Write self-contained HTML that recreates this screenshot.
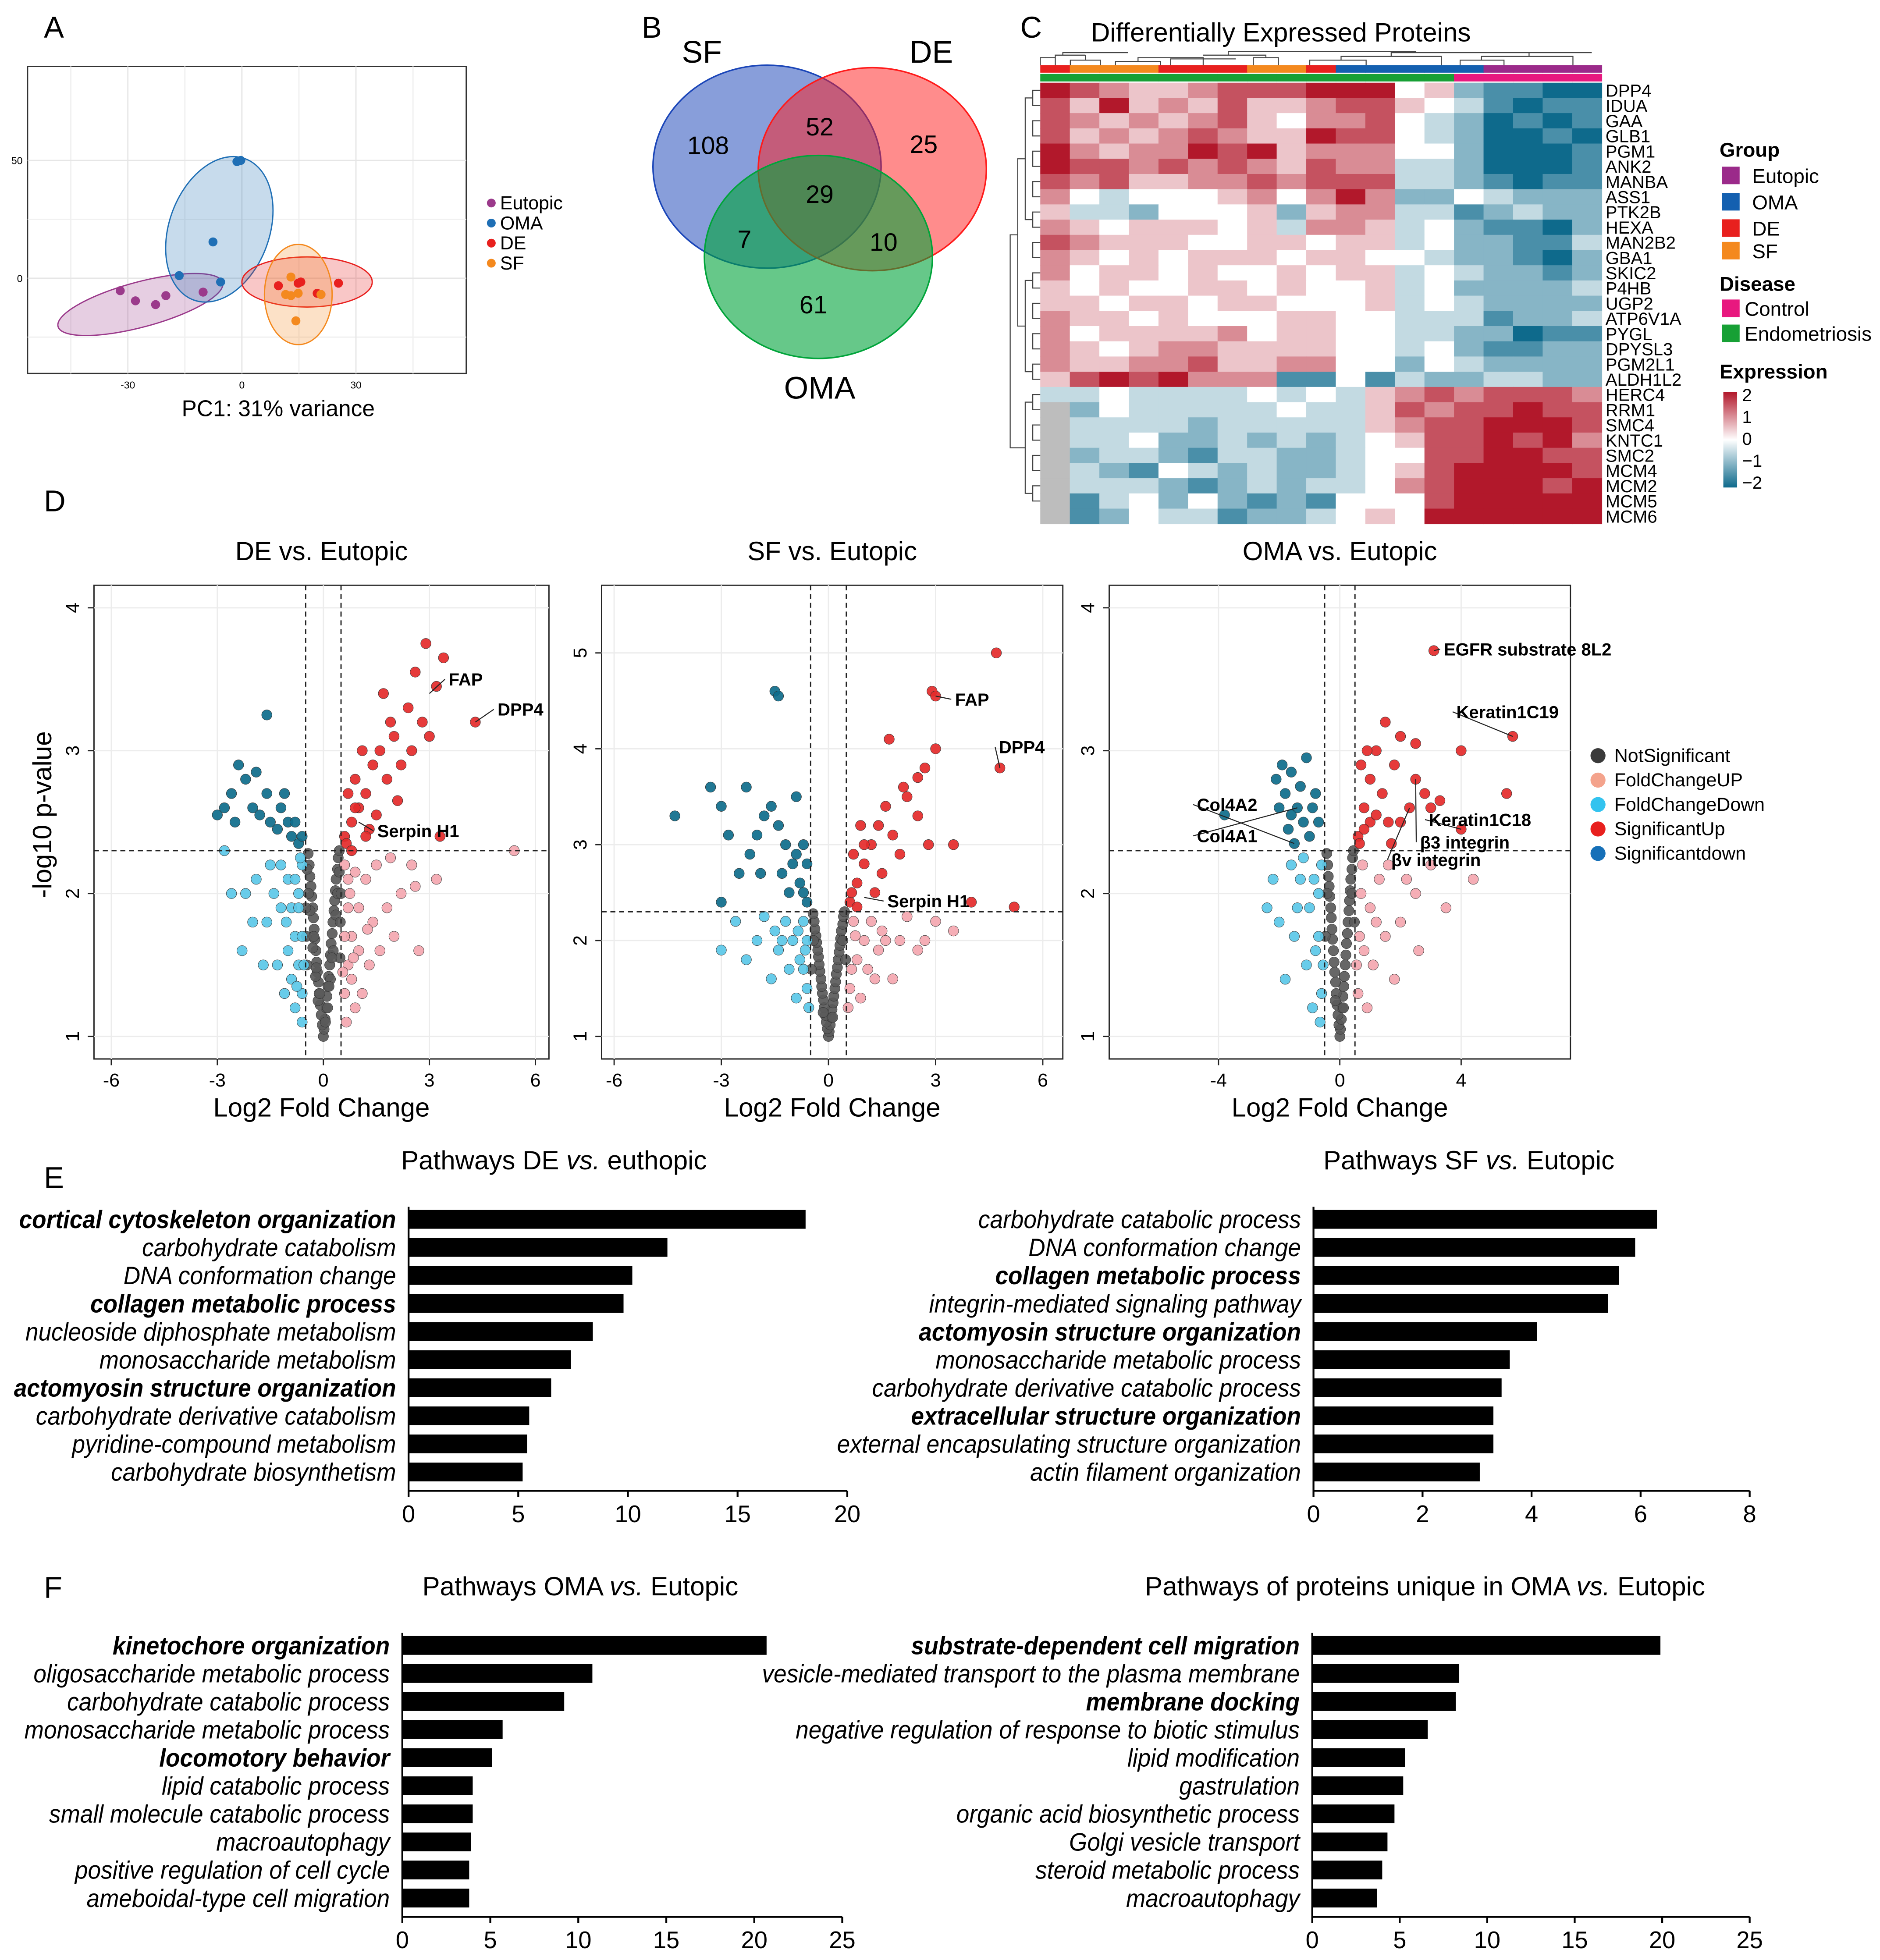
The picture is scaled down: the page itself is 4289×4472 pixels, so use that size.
<!DOCTYPE html>
<html><head><meta charset="utf-8">
<style>
html,body{margin:0;padding:0;background:#fff;}
svg{display:block;font-family:"Liberation Sans",sans-serif;}
</style></head>
<body>
<svg id="fig" xmlns="http://www.w3.org/2000/svg" width="4289" height="4472" viewBox="0 0 1500 1564">
<rect x="0" y="0" width="1500" height="1564" fill="#fff"/>
<g id="static" font-size="22">
<text x="35" y="30" font-size="24">A</text>
<text x="512" y="30" font-size="24">B</text>
<text x="814" y="30" font-size="24">C</text>
<text x="35" y="408" font-size="24">D</text>
<text x="35" y="948" font-size="24">E</text>
<text x="35" y="1275" font-size="24">F</text>
</g>
<g id="pA"></g>
<g id="pB"></g>
<g id="pC"></g>
<g id="pD"></g>
<g id="pE"></g>
</svg>
<script>
const NS='http://www.w3.org/2000/svg';
function mk(tag,attrs,parent,txt){const e=document.createElementNS(NS,tag);for(const k in attrs)e.setAttribute(k,attrs[k]);if(txt!==undefined)e.textContent=txt;parent.appendChild(e);return e;}

/* ---------------- A: PCA ---------------- */
const pcaEutopicX=[-32,-28,-22.7,-20,-10.2];
const pcaEutopicY=[-5.3,-9.6,-11.2,-7.4,-5.9];
const pcaOmaX=[-1.3,-0.3,-7.6,-16.5,-5.6];
const pcaOmaY=[49.5,50,15.4,1.1,-1.6];
const pcaDeX=[9.6,14.8,19.8,20.8,25.4,15.5];
const pcaDeY=[-3.2,-2.1,-6.4,-6.9,-2.1,-1.6];
const pcaSfX=[12.9,11.5,14.8,14.2,12.9,20.8];
const pcaSfY=[0.5,-6.9,-6.4,-18.1,-7.4,-6.9];
const pcaXTicks=[-30,0,30];
const pcaYTicks=[0,50];
(function(){
const g=document.getElementById('pA');
const sx=v=>193+v*91/30, sy=v=>222-v*94/50;
let r=mk('rect',{x:22,y:53,width:350,height:245,fill:'#fff',stroke:'#333','stroke-width':1},g);


for(const t of [-45,-15,15,45]){mk('line',{x1:sx(t),x2:sx(t),y1:53,y2:298,stroke:'#f0f0f0'},g);}
for(const t of [-25,25]){mk('line',{x1:22,x2:372,y1:sy(t),y2:sy(t),stroke:'#f0f0f0'},g);}
for(const t of pcaXTicks){mk('line',{x1:sx(t),x2:sx(t),y1:53,y2:298,stroke:'#e6e6e6'},g);const tx=mk('text',{x:sx(t),y:310,'font-size':8,'text-anchor':'middle'},g,t);}
for(const t of pcaYTicks){mk('line',{x1:22,x2:372,y1:sy(t),y2:sy(t),stroke:'#e6e6e6'},g);const ty=mk('text',{x:18,y:sy(t)+3,'font-size':8,'text-anchor':'end'},g,t);}
const ells=[[112,243,68,18,-15,'#9B3A8B'],[175,183,40,60,20,'#1F6FB5'],[245,225,52,20,0,'#E8201E'],[238,235,27,40,0,'#F4891E']];
const en=['ellipse-eutopic','ellipse-oma','ellipse-de','ellipse-sf'];
ells.forEach((e,i)=>{const el=mk('ellipse',{cx:e[0],cy:e[1],rx:e[2],ry:e[3],transform:`rotate(${e[4]} ${e[0]} ${e[1]})`,fill:e[5],'fill-opacity':0.25,stroke:e[5],'stroke-width':1},g);});
const sets=[[pcaEutopicX,pcaEutopicY,'#9B3A8B','eutopic'],[pcaOmaX,pcaOmaY,'#1F6FB5','oma'],[pcaDeX,pcaDeY,'#E8201E','de'],[pcaSfX,pcaSfY,'#F4891E','sf']];
sets.forEach(s=>{s[0].forEach((x,i)=>{const c=mk('circle',{cx:sx(x),cy:sy(s[1][i]),r:3.6,fill:s[2]},g);});});
const xt=mk('text',{x:222,y:332,'font-size':18,'text-anchor':'middle'},g,'PC1: 31% variance');

['Eutopic','OMA','DE','SF'].forEach((n,i)=>{const c=mk('circle',{cx:392,cy:162+i*16,r:3.5,fill:sets[i][2]},g);const t=mk('text',{x:399,y:167+i*16,'font-size':15},g,n);});
})();

/* ---------------- B: Venn ---------------- */
const vennCounts=[108,52,25,29,7,10,61];
(function(){
const g=document.getElementById('pB');
const cs=[[612,133,'#1A45B8',0.52,'venn-circle-sf'],[696,135,'#FF1A1A',0.5,'venn-circle-de'],[653,205,'#00A43A',0.6,'venn-circle-oma']];
cs.forEach(c=>{const e=mk('ellipse',{cx:c[0],cy:c[1],rx:91,ry:81,fill:c[2],'fill-opacity':c[3],stroke:c[2],'stroke-width':1.2},g);});
const pos=[[565,123],[654,108],[737,122],[654,162],[594,198],[705,200],[649,250]];
vennCounts.forEach((v,i)=>{const t=mk('text',{x:pos[i][0],y:pos[i][1],'font-size':20,'text-anchor':'middle'},g,v);});
[['SF',560,50],['DE',743,50],['OMA',654,318]].forEach(l=>{const t=mk('text',{x:l[1],y:l[2],'font-size':25,'text-anchor':'middle'},g,l[0]);});
})();

/* ---------------- C: Heatmap ---------------- */
const heatGenes=['DPP4','IDUA','GAA','GLB1','PGM1','ANK2','MANBA','ASS1','PTK2B','HEXA','MAN2B2','GBA1','SKIC2','P4HB','UGP2','ATP6V1A','PYGL','DPYSL3','PGM2L1','ALDH1L2','HERC4','RRM1','SMC4','KNTC1','SMC2','MCM4','MCM2','MCM5','MCM6'];
const heatRows=["8765567778884521100","7585657556775431011","7656567546674320101","7565676558774320010","8656687856664420001","8776767657663320001","7675566767773321011","6434445646862243222","5332444525663312322","6545554536653421102","7655544554553422113","6545455545544322102","6455454454553432212","5454455454453422223","5545545544453432222","6554544455443331223","6455556455443322011","6545665555443421122","6556675566442432222","5787866611413223322","3343333434356767776","x243333343357677877","x333323333356778887","x334223232345778786","x233213322344778877","x321432322345788887","x333212323346788878","x134242121444788888","x124331223454888888"];
const heatGroup=['DE','SF','SF','SF','DE','DE','DE','SF','SF','DE','OMA','OMA','OMA','OMA','OMA','Eutopic','Eutopic','Eutopic','Eutopic'];
const heatDisease=['E','E','E','E','E','E','E','E','E','E','E','E','E','E','C','C','C','C','C'];
(function(){
const g=document.getElementById('pC');
const x0=830,y0=66,w=448,h=352,nc=19,nr=29,cw=w/nc,rh=h/nr;
const t=mk('text',{x:1022,y:33,'font-size':21,'text-anchor':'middle'},g,'Differentially Expressed Proteins');

function col(v){const lo=[14,106,140],mid=[255,255,255],hi=[178,24,43];let a,b,f;if(v<0){a=mid;b=lo;f=Math.min(1,-v/2);}else{a=mid;b=hi;f=Math.min(1,v/2);}return 'rgb('+a.map((c,i)=>Math.round(c+(b[i]-c)*f)).join(',')+')';}
heatRows.forEach((row,ri)=>{for(let ci=0;ci<nc;ci++){const ch=row[ci];const fill=ch==='x'?'#bdbdbd':col((+ch-4)/2);const c=mk('rect',{x:x0+ci*cw,y:y0+ri*rh,width:cw+0.3,height:rh+0.3,fill:fill},g);}});
const gc={DE:'#E8201E',SF:'#F4891E',OMA:'#1460B0',Eutopic:'#E8187F'};
heatGroup.forEach((k,i)=>{const c=mk('rect',{x:x0+i*cw,y:52,width:cw+0.3,height:6,fill:k==='Eutopic'?'#9B2A8A':gc[k]},g);});
heatDisease.forEach((k,i)=>{const c=mk('rect',{x:x0+i*cw,y:59,width:cw+0.3,height:6,fill:k==='C'?'#E8187F':'#17A035'},g);});
heatGenes.forEach((n,i)=>{const tx=mk('text',{x:1281,y:y0+i*rh+rh-1,'font-size':14},g,n);});
const dd='M830,52V46H842V52M842,46V44H866M854,52V48H878V52M866,48V44M848,44V42H900M890,52V49H926V52M908,49V46H960V52M934,52V47H986V47M1000,52V46H1020V52M1010,46V44H960M980,44V41H1130M1045,52V48H1090V52M1070,48V45H1150V52M1110,45V42H1235M1165,52V48H1200V52M1182,48V45H1255V52M1220,45V42H1270';
const d1=mk('path',{d:dd,fill:'none',stroke:'#444','stroke-width':0.8},g);
let ld='';for(let i=0;i<28;i+=2){const ya=y0+i*rh+rh/2,yb=ya+rh;ld+=`M830,${ya}H824V${yb}H830`;}
ld+=`M824,${y0+rh}H818V${y0+9*rh}H824M818,${y0+5*rh}H812V${y0+16*rh}H818M824,${y0+13*rh}H818V${y0+19*rh}H824M824,${y0+21*rh}H818V${y0+27*rh}H824M812,${y0+10*rh}H806V${y0+24*rh}H818`;
const d2=mk('path',{d:ld,fill:'none',stroke:'#444','stroke-width':0.8},g);
const L=[['Group',1372,125,true],['Eutopic',1398,146],['OMA',1398,167],['DE',1398,188],['SF',1398,206],['Disease',1372,232,true],['Control',1392,252],['Endometriosis',1392,272],['Expression',1372,302,true]];
L.forEach(l=>{const tx=mk('text',{x:l[1],y:l[2],'font-size':16,'font-weight':l[3]?'bold':'normal'},g,l[0]);});
[['#9B2A8A',133],['#1460B0',154],['#E8201E',175],['#F4891E',193],['#E8187F',239],['#17A035',259]].forEach(s=>{const r=mk('rect',{x:1374,y:s[1],width:14,height:14,fill:s[0]},g);});
const defs=mk('defs',{},g);const lg=mk('linearGradient',{id:'cbar',x1:0,y1:0,x2:0,y2:1},defs);
mk('stop',{offset:'0','stop-color':'#B2182B'},lg);mk('stop',{offset:'0.5','stop-color':'#ffffff'},lg);mk('stop',{offset:'1','stop-color':'#0E6A8C'},lg);
const cb=mk('rect',{x:1375,y:313,width:11,height:76,fill:'url(#cbar)'},g);
['2','1','0','\u22121','\u22122'].forEach((s,i)=>{const tx=mk('text',{x:1390,y:320+i*17.5,'font-size':14},g,s);});
})();

/* ---------------- D: Volcano plots ---------------- */
const deGray=[[0,1.0],[0.02,1.05],[-0.03,1.08],[0.05,1.12],[-0.06,1.15],[0.08,1.2],[-0.09,1.22],[0.1,1.28],[-0.12,1.3],[0.13,1.35],[-0.14,1.38],[0.15,1.42],[-0.17,1.45],[0.18,1.5],[-0.19,1.52],[0.2,1.57],[-0.21,1.6],[0.22,1.65],[-0.24,1.68],[0.25,1.72],[-0.26,1.75],[0.27,1.8],[-0.28,1.83],[0.3,1.88],[-0.3,1.9],[0.32,1.95],[-0.33,1.98],[0.34,2.02],[-0.35,2.05],[0.36,2.1],[-0.38,2.12],[0.4,2.17],[-0.4,2.2],[0.42,2.25],[-0.43,2.28],[0.45,2.3],[0.12,1.2],[-0.15,1.25],[0.2,1.4],[-0.22,1.42],[0.28,1.6],[-0.3,1.62],[0.35,1.85],[-0.38,1.88],[0.4,2.0],[-0.42,2.0],[0.45,2.15],[-0.46,2.17],[0.48,1.8],[-0.48,1.7],[0.5,2.0],[-0.5,1.9],[0.47,1.55],[-0.47,1.5],[0.06,1.1],[-0.1,1.3],[0.16,1.35],[-0.2,1.48],[0.24,1.55],[-0.27,1.7]];
const deLightDown=[[-0.6,1.3],[-0.7,1.5],[-0.8,1.7],[-0.9,1.9],[-1.0,2.1],[-1.2,2.2],[-1.5,2.2],[-2.0,1.8],[-2.3,1.6],[-2.8,2.3],[-1.3,1.5],[-1.1,1.3],[-0.8,1.2],[-1.6,1.8],[-1.9,2.1],[-0.7,2.0],[-0.6,2.2],[-1.4,2.0],[-0.9,1.4],[-1.7,1.5],[-2.2,2.0],[-1.0,1.6],[-0.6,1.7],[-0.7,1.9],[-0.8,2.1],[-0.6,1.1],[-0.75,1.35],[-1.05,1.8],[-0.55,1.5],[-0.65,2.25],[-2.6,2.0],[-1.2,1.9]];
const deSigDown=[[-3,2.55],[-2.8,2.6],[-2.6,2.7],[-2.4,2.9],[-2.2,2.8],[-2.0,2.6],[-1.8,2.55],[-1.6,2.7],[-1.5,2.5],[-1.3,2.45],[-1.2,2.6],[-1.0,2.5],[-0.9,2.4],[-0.8,2.5],[-0.7,2.35],[-1.9,2.85],[-1.6,3.25],[-2.5,2.5],[-1.1,2.7],[-0.6,2.4]];
const deLightUp=[[0.6,1.3],[0.7,1.5],[0.8,1.7],[1.0,1.9],[1.2,2.1],[1.5,2.2],[1.8,1.9],[2.0,1.7],[1.3,1.5],[1.1,1.3],[0.9,1.2],[1.6,1.6],[2.2,2.0],[0.7,2.1],[0.6,2.2],[1.4,1.8],[2.5,2.2],[5.4,2.3],[1.9,2.25],[0.8,1.4],[1.0,1.6],[0.6,1.7],[0.7,1.9],[0.65,1.1],[0.75,2.0],[0.85,1.55],[1.25,1.75],[3.2,2.1],[2.6,2.05],[2.7,1.6],[0.55,1.45],[0.9,2.15]];
const deSigUp=[[0.6,2.4],[0.8,2.5],[1.0,2.6],[1.2,2.7],[1.4,2.9],[1.6,3.0],[1.8,2.8],[2.0,3.1],[2.2,2.9],[2.5,3.0],[2.8,3.2],[2.6,3.55],[2.9,3.75],[3.2,3.45],[3.4,3.65],[4.3,3.2],[3.3,2.4],[2.4,3.3],[1.7,3.4],[1.1,3.0],[0.9,2.8],[1.5,2.55],[2.1,2.65],[1.3,2.45],[0.7,2.7],[1.9,3.2],[3.0,3.1],[0.65,2.35],[0.8,2.3],[1.2,2.4],[0.9,2.6]];
const sfGray=[[0,1.0],[0.02,1.05],[-0.03,1.08],[0.05,1.12],[-0.06,1.15],[0.08,1.2],[-0.09,1.22],[0.1,1.28],[-0.12,1.3],[0.13,1.35],[-0.14,1.38],[0.15,1.42],[-0.17,1.45],[0.18,1.5],[-0.19,1.52],[0.2,1.57],[-0.21,1.6],[0.22,1.65],[-0.24,1.68],[0.25,1.72],[-0.26,1.75],[0.27,1.8],[-0.28,1.83],[0.3,1.88],[-0.3,1.9],[0.32,1.95],[-0.33,1.98],[0.34,2.02],[-0.35,2.05],[0.36,2.1],[-0.38,2.12],[0.4,2.17],[-0.4,2.2],[0.42,2.25],[-0.43,2.28],[0.45,2.3],[0.4,2.0],[-0.42,2.0],[0.48,1.8],[-0.48,1.7],[0.12,1.2],[-0.15,1.25]];
const sfLightDown=[[-0.6,1.5],[-0.8,1.8],[-1.0,2.0],[-1.2,2.2],[-1.5,2.1],[-2.0,2.0],[-2.3,1.8],[-0.7,2.2],[-1.1,1.7],[-1.4,1.9],[-0.9,1.4],[-1.8,2.25],[-0.6,2.0],[-1.6,1.6],[-2.6,2.2],[-0.7,1.7],[-0.55,1.3],[-0.85,2.1],[-1.3,2.0],[-0.65,1.9],[-3.0,1.9]];
const sfSigDown=[[-0.6,2.4],[-0.8,2.6],[-1.0,2.8],[-1.2,3.0],[-1.4,3.2],[-1.6,3.4],[-1.8,3.3],[-2.0,3.1],[-2.2,2.9],[-2.5,2.7],[-2.8,3.1],[-3.0,3.4],[-3.3,3.6],[-4.3,3.3],[-1.5,4.6],[-1.4,4.55],[-0.9,3.5],[-1.1,2.5],[-0.7,3.0],[-1.9,2.7],[-3.0,2.4],[-2.3,3.6],[-1.3,2.7],[-0.6,2.8],[-0.7,2.5],[-0.9,2.9]];
const sfLightUp=[[0.6,1.5],[0.8,1.8],[1.0,2.0],[1.2,2.2],[1.5,2.1],[2.0,2.0],[2.5,1.9],[3.0,2.2],[0.7,2.2],[1.1,1.7],[1.4,1.9],[1.8,1.6],[2.2,2.25],[0.9,1.4],[1.6,2.0],[3.5,2.1],[0.65,1.7],[0.55,1.3],[0.75,2.05],[1.3,1.6],[2.7,2.0]];
const sfSigUp=[[0.6,2.4],[0.8,2.6],[1.0,2.8],[1.2,3.0],[1.4,3.2],[1.6,3.4],[1.8,3.1],[2.0,2.9],[2.2,3.5],[2.5,3.3],[2.8,3.0],[2.9,4.6],[3.0,4.55],[2.7,3.8],[3.0,4.0],[4.7,5.0],[4.8,3.8],[5.2,2.35],[4.0,2.4],[1.7,4.1],[2.1,3.6],[0.9,3.2],[1.3,2.5],[3.5,3.0],[0.7,2.9],[2.5,3.7],[0.65,2.5],[0.8,2.35],[1.0,3.0],[1.5,2.7]];
const omaGray=[[0,1.0],[0.02,1.05],[-0.03,1.08],[0.05,1.12],[-0.06,1.15],[0.08,1.2],[-0.09,1.22],[0.1,1.28],[-0.12,1.3],[0.13,1.35],[-0.14,1.38],[0.15,1.42],[-0.17,1.45],[0.18,1.5],[-0.19,1.52],[0.2,1.57],[-0.21,1.6],[0.22,1.65],[-0.24,1.68],[0.25,1.72],[-0.26,1.75],[0.27,1.8],[-0.28,1.83],[0.3,1.88],[-0.3,1.9],[0.32,1.95],[-0.33,1.98],[0.34,2.02],[-0.35,2.05],[0.36,2.1],[-0.38,2.12],[0.4,2.17],[-0.4,2.2],[0.42,2.25],[-0.43,2.28],[0.45,2.3],[0.4,2.0],[-0.42,2.0],[0.48,1.8],[-0.48,1.7],[0.12,1.2],[-0.15,1.25]];
const omaLightDown=[[-0.6,1.3],[-0.8,1.6],[-1.0,1.9],[-1.3,2.1],[-1.6,2.2],[-2.0,1.8],[-0.7,2.0],[-1.1,1.5],[-1.5,1.7],[-2.2,2.1],[-0.9,1.2],[-1.8,1.4],[-0.6,2.2],[-1.2,2.25],[-0.7,1.7],[-0.55,1.5],[-0.85,2.1],[-1.4,1.9],[-0.65,1.1],[-2.4,1.9]];
const omaSigDown=[[-3.8,2.55],[-2.0,2.6],[-1.8,2.7],[-1.6,2.85],[-1.4,2.6],[-1.2,2.5],[-1.0,2.4],[-0.8,2.7],[-1.5,2.35],[-1.9,2.9],[-1.1,2.95],[-0.7,2.5],[-1.3,2.75],[-1.7,2.45],[-0.9,2.6],[-2.1,2.8],[-1.6,2.55]];
const omaLightUp=[[0.6,1.3],[0.8,1.6],[1.0,1.9],[1.3,2.1],[1.6,2.2],[2.0,1.8],[2.5,2.0],[3.0,2.2],[0.7,2.0],[1.1,1.5],[1.5,1.7],[2.2,2.1],[0.9,1.2],[1.8,1.4],[4.4,2.1],[3.5,1.9],[0.65,1.7],[0.55,1.5],[0.75,2.2],[1.2,1.8],[2.6,1.6]];
const omaSigUp=[[0.6,2.4],[0.8,2.6],[1.0,2.8],[1.2,3.0],[1.4,2.7],[1.6,2.5],[1.8,2.9],[2.0,3.1],[2.3,2.6],[2.5,2.8],[2.8,2.7],[3.0,2.6],[3.1,3.7],[5.7,3.1],[5.5,2.7],[4.0,3.0],[4.0,2.45],[1.5,3.2],[2.5,3.05],[1.0,2.5],[0.7,2.9],[3.3,2.65],[2.0,2.5],[1.7,2.35],[0.65,2.35],[0.8,2.45],[1.2,2.55],[0.9,3.0]];
const deXTicks=[-6,-3,0,3,6], deYTicks=[1,2,3,4];
const sfXTicks=[-6,-3,0,3,6], sfYTicks=[1,2,3,4,5];
const omaXTicks=[-4,0,4], omaYTicks=[1,2,3,4];
(function(){
const g=document.getElementById('pD');
const C={gray:'#5a5a5a',ld:'#5BC8E8',sd:'#0E6C8B',lu:'#F4A7B0',su:'#E42A2A'};
function plot(cfg){
  const {x0,x1,y0,y1,xz,xu,yz,yu,title,xt,yt,sets,labels,name}=cfg;
  const sx=v=>xz+v*xu, sy=v=>yz-v*yu;
  const r=mk('rect',{x:x0,y:y0,width:x1-x0,height:y1-y0,fill:'#fff',stroke:'#222','stroke-width':1},g);
  
  xt.forEach(t=>{mk('line',{x1:sx(t),x2:sx(t),y1:y0,y2:y1,stroke:'#ececec'},g);mk('line',{x1:sx(t),x2:sx(t),y1:y1,y2:y1+5,stroke:'#222'},g);const tx=mk('text',{x:sx(t),y:y1+22,'font-size':15,'text-anchor':'middle'},g,t);});
  yt.forEach(t=>{mk('line',{x1:x0,x2:x1,y1:sy(t),y2:sy(t),stroke:'#ececec'},g);mk('line',{x1:x0-5,x2:x0,y1:sy(t),y2:sy(t),stroke:'#222'},g);const ty=mk('text',{x:x0-12,y:sy(t),'font-size':15,'text-anchor':'middle',transform:`rotate(-90 ${x0-12} ${sy(t)})`},g,t);});
  sets.forEach(s=>{s[0].forEach(p=>{const c=mk('circle',{cx:sx(p[0]),cy:sy(p[1]),r:4.1,fill:s[1],stroke:'#333','stroke-width':0.3,'fill-opacity':0.92},g);});});
  [-0.5,0.5].forEach(v=>{const l=mk('line',{x1:sx(v),x2:sx(v),y1:y0,y2:y1,stroke:'#222','stroke-dasharray':'4,3'},g);});
  const hl=mk('line',{x1:x0,x2:x1,y1:sy(2.3),y2:sy(2.3),stroke:'#222','stroke-dasharray':'4,3'},g);
  labels.forEach(l=>{mk('line',{x1:sx(l[1]),y1:sy(l[2]),x2:l[3]-3,y2:l[4]-5,stroke:'#222','stroke-width':0.8},g);const tx=mk('text',{x:l[3],y:l[4],'font-size':14,'font-weight':'bold'},g,l[0]);});
  const tt=mk('text',{x:(x0+x1)/2,y:y0-20,'font-size':21,'text-anchor':'middle'},g,title);
  const at=mk('text',{x:(x0+x1)/2,y:y1+46,'font-size':21,'text-anchor':'middle'},g,'Log2 Fold Change');
}
plot({name:'volcano-de',x0:75,x1:438,y0:467,y1:845,xz:258,xu:28.2,yz:713+2*114,yu:114,title:'DE vs. Eutopic',xt:deXTicks,yt:deYTicks,
 sets:[[deGray,C.gray,'notsignificant'],[deLightDown,C.ld,'foldchangedown'],[deLightUp,C.lu,'foldchangeup'],[deSigDown,C.sd,'significantdown'],[deSigUp,C.su,'significantup']],
 labels:[['FAP',3.0,3.4,358,547],['DPP4',4.3,3.2,397,571],['Serpin H1',1.0,2.5,301,668]]});
plot({name:'volcano-sf',x0:480,x1:848,y0:467,y1:845,xz:661,xu:28.5,yz:827+76.5,yu:76.5,title:'SF vs. Eutopic',xt:sfXTicks,yt:sfYTicks,
 sets:[[sfGray,C.gray,'notsignificant'],[sfLightDown,C.ld,'foldchangedown'],[sfLightUp,C.lu,'foldchangeup'],[sfSigDown,C.sd,'significantdown'],[sfSigUp,C.su,'significantup']],
 labels:[['FAP',3.0,4.55,762,563],['DPP4',4.8,3.8,797,601],['Serpin H1',1.0,2.45,708,724]]});
plot({name:'volcano-oma',x0:885,x1:1253,y0:467,y1:845,xz:1069,xu:24.2,yz:713+2*114,yu:114,title:'OMA vs. Eutopic',xt:omaXTicks,yt:omaYTicks,
 sets:[[omaGray,C.gray,'notsignificant'],[omaLightDown,C.ld,'foldchangedown'],[omaLightUp,C.lu,'foldchangeup'],[omaSigDown,C.sd,'significantdown'],[omaSigUp,C.su,'significantup']],
 labels:[['EGFR substrate 8L2',3.1,3.7,1152,523],['Keratin1C19',5.7,3.1,1162,573],['Keratin1C18',4.0,2.45,1140,659],['\u03B23 integrin',2.5,2.8,1133,677],['\u03B2v integrin',2.3,2.6,1110,691],['Col4A2',-1.5,2.35,955,647],['Col4A1',-1.4,2.6,955,672]]});
const yl=mk('text',{x:41,y:650,'font-size':21,'text-anchor':'middle',transform:'rotate(-90 41 650)'},g,'-log10 p-value');
[['NotSignificant','#3a3a3a'],['FoldChangeUP','#F4A38C'],['FoldChangeDown','#33C3EF'],['SignificantUp','#E8201E'],['Significantdown','#1670B8']].forEach((l,i)=>{const c=mk('circle',{cx:1275,cy:603+i*19.5,r:6,fill:l[1]},g);const t=mk('text',{x:1288,y:608+i*19.5,'font-size':15},g,l[0]);});
})();

/* ---------------- E/F: Pathway bar charts ---------------- */
const deTerms=['cortical cytoskeleton organization','carbohydrate catabolism','DNA conformation change','collagen metabolic process','nucleoside diphosphate metabolism','monosaccharide metabolism','actomyosin structure organization','carbohydrate derivative catabolism','pyridine-compound metabolism','carbohydrate biosynthetism'];
const deValues=[18.1,11.8,10.2,9.8,8.4,7.4,6.5,5.5,5.4,5.2];
const deBold=[1,0,0,1,0,0,1,0,0,0];
const sfTerms=['carbohydrate catabolic process','DNA conformation change','collagen metabolic process','integrin-mediated signaling pathway','actomyosin structure organization','monosaccharide metabolic process','carbohydrate derivative catabolic process','extracellular structure organization','external encapsulating structure organization','actin filament organization'];
const sfValues=[6.3,5.9,5.6,5.4,4.1,3.6,3.45,3.3,3.3,3.05];
const sfBold=[0,0,1,0,1,0,0,1,0,0];
const omaTerms=['kinetochore organization','oligosaccharide metabolic process','carbohydrate catabolic process','monosaccharide metabolic process','locomotory behavior','lipid catabolic process','small molecule catabolic process','macroautophagy','positive regulation of cell cycle','ameboidal-type cell migration'];
const omaValues=[20.7,10.8,9.2,5.7,5.1,4.0,4.0,3.9,3.8,3.8];
const omaBold=[1,0,0,0,1,0,0,0,0,0];
const uniqTerms=['substrate-dependent cell migration','vesicle-mediated transport to the plasma membrane','membrane docking','negative regulation of response to biotic stimulus','lipid modification','gastrulation','organic acid biosynthetic process','Golgi vesicle transport','steroid metabolic process','macroautophagy'];
const uniqValues=[19.9,8.4,8.2,6.6,5.3,5.2,4.7,4.3,4.0,3.7];
const uniqBold=[1,0,1,0,0,0,0,0,0,0];
const deAxis=[0,5,10,15,20], sfAxis=[0,2,4,6,8], omaAxis=[0,5,10,15,20,25], uniqAxis=[0,5,10,15,20,25];
(function(){
const g=document.getElementById('pE');
function bars(cfg){
  const {x0,x1,max,ytop,title,terms,vals,bold,ticks,name,titleX}=cfg;
  const s=v=>x0+v*(x1-x0)/max; const step=22.4;
  const tt=mk('text',{x:titleX,y:ytop-40,'font-size':21,'text-anchor':'middle'},g);
  
  title.forEach(p=>{mk('tspan',{'font-style':p[1]?'italic':'normal'},tt,p[0]);});
  terms.forEach((t,i)=>{const y=ytop+i*step;
    const b=mk('rect',{x:x0,y:y-7.5,width:s(vals[i])-x0,height:15,fill:'#000'},g);
    const tx=mk('text',{x:x0-10,y:y+7,'font-size':20,'text-anchor':'end','font-style':'italic','font-weight':bold[i]?'bold':'normal',transform:`translate(${(x0-10)*0.07} 0) scale(0.93 1)`},g,t);
    });
  const yb=ytop+9*step+15;
  mk('line',{x1:x0,x2:x0,y1:ytop-10,y2:yb,stroke:'#000','stroke-width':1.5},g);
  const ax=mk('line',{x1:x0,x2:x1,y1:yb,y2:yb,stroke:'#000','stroke-width':1.5},g);
  ticks.forEach(t=>{mk('line',{x1:s(t),x2:s(t),y1:yb,y2:yb+5,stroke:'#000','stroke-width':1.5},g);const tx=mk('text',{x:s(t),y:yb+25,'font-size':19,'text-anchor':'middle'},g,t);});
}
bars({name:'pathways-de',x0:326,x1:676,max:20,ytop:973,title:[['Pathways DE ',0],['vs.',1],[' euthopic',0]],titleX:442,terms:deTerms,vals:deValues,bold:deBold,ticks:deAxis});
bars({name:'pathways-sf',x0:1048,x1:1396,max:8,ytop:973,title:[['Pathways SF ',0],['vs.',1],[' Eutopic',0]],titleX:1172,terms:sfTerms,vals:sfValues,bold:sfBold,ticks:sfAxis});
bars({name:'pathways-oma',x0:321,x1:672,max:25,ytop:1313,title:[['Pathways OMA ',0],['vs.',1],[' Eutopic',0]],titleX:463,terms:omaTerms,vals:omaValues,bold:omaBold,ticks:omaAxis});
bars({name:'pathways-unique-oma',x0:1047,x1:1396,max:25,ytop:1313,title:[['Pathways of proteins unique in OMA ',0],['vs.',1],[' Eutopic',0]],titleX:1137,terms:uniqTerms,vals:uniqValues,bold:uniqBold,ticks:uniqAxis});
})();
</script>
</body></html>
